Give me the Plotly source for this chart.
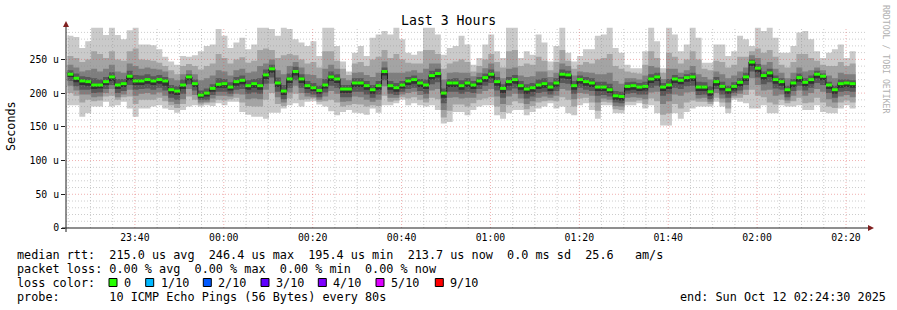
import plotly.graph_objects as go
from datetime import datetime, timedelta

# ---------------- data (microseconds) ----------------
median = [228,222,218,217,212,212,217,224,212,214,
          225,218,218,220,218,220,218,205,203,212,
          224,214,197,200,207,213,214,209,217,219,
          211,214,211,227,236,215,203,221,232,221,
          211,208,204,212,224,221,206,206,215,215,
          211,205,211,232,211,208,212,218,220,215,
          212,226,229,200,215,215,211,215,212,218,
          223,228,217,207,217,220,211,206,208,212,
          214,209,215,228,227,211,220,217,215,209,
          209,205,196,195,210,211,209,210,221,224,
          209,212,221,219,223,224,209,209,202,217,
          210,205,210,216,224,246,237,226,230,220,
          217,205,215,223,216,220,228,225,212,205,214,215,214]

ping01 = [182,182,165,170,180,180,187,180,182,187,
          177,165,177,177,180,182,177,175,171,175,
          180,182,180,182,181,185,182,187,187,172,
          168,165,165,162,171,171,177,182,185,180,
          187,188,183,180,173,167,172,175,171,170,
          168,177,171,182,182,185,190,182,185,182,
          180,182,175,155,157,172,172,167,175,180,
          182,182,167,162,170,175,175,167,172,177,
          180,185,177,180,170,167,182,185,175,162,
          182,182,170,170,182,182,185,177,182,170,
          152,152,170,162,172,177,180,180,180,187,
          180,170,190,187,185,177,177,182,170,170,
          182,180,180,182,175,175,182,172,170,170,177,182,177]
ping02 = [200,196,186,190,188,189,195,196,190,194,
          195,184,190,190,190,193,188,182,178,184,
          195,190,183,185,186,190,189,191,193,186,
          181,180,180,190,200,184,181,192,199,190,
          191,192,187,188,190,186,180,182,184,183,
          180,182,181,196,187,189,194,192,194,190,
          186,193,191,164,174,183,183,180,185,190,
          192,194,180,172,182,188,185,176,181,186,
          188,189,188,194,190,180,192,193,186,174,
          187,186,176,175,187,187,189,184,192,188,
          168,170,184,177,186,189,187,187,184,193,
          186,177,193,193,197,205,196,194,186,183,
          190,185,188,193,185,186,193,186,180,178,186,189,186]
ping03 = [211,204,198,198,194,195,200,206,194,198,
          205,196,199,200,198,201,196,187,184,191,
          206,197,186,187,192,196,196,195,199,198,
          191,192,191,205,214,194,186,201,211,200,
          195,194,190,195,203,199,187,188,195,194,
          190,187,190,210,193,193,198,200,202,197,
          192,204,206,175,193,194,192,193,193,199,
          203,206,195,184,195,199,192,184,188,193,
          195,193,196,206,204,191,200,199,196,186,
          192,190,181,180,193,194,193,191,201,202,
          184,188,198,196,201,202,192,193,187,200,
          192,186,196,199,205,222,212,204,205,196,
          198,189,196,204,196,200,206,202,191,186,195,197,194]
ping04 = [218,210,205,205,200,201,206,212,200,203,
          212,205,206,207,205,208,204,193,190,199,
          213,204,190,190,197,202,202,199,205,206,
          199,201,199,214,223,202,191,208,219,208,
          200,198,194,201,211,208,194,194,202,202,
          198,193,198,219,199,197,202,206,208,203,
          199,213,216,185,202,202,199,202,200,206,
          211,215,204,193,204,207,199,192,195,200,
          202,198,203,215,214,199,208,205,203,196,
          197,195,186,185,199,200,198,198,208,211,
          196,199,208,206,210,211,197,198,191,206,
          198,193,200,204,212,232,223,213,216,207,
          205,194,203,211,204,208,215,212,200,193,202,203,202]
ping05 = [224,216,212,211,206,207,212,218,206,209,
          219,212,212,214,212,214,211,199,197,206,
          219,209,193,195,202,208,208,204,211,213,
          205,208,205,221,230,209,197,215,226,215,
          206,203,199,207,218,215,200,200,209,209,
          205,199,205,226,205,202,207,212,214,209,
          206,220,223,193,209,209,205,209,206,212,
          217,222,211,200,211,214,205,199,202,206,
          208,203,209,222,221,205,214,211,209,203,
          203,200,190,189,204,205,203,204,215,218,
          203,206,215,213,217,218,203,203,196,211,
          204,199,204,210,218,240,231,220,224,214,
          211,199,209,217,210,214,222,219,206,199,208,209,208]
ping06 = [230,224,220,219,214,214,219,226,214,216,
          227,220,220,222,220,222,220,207,205,214,
          226,216,199,202,209,215,216,211,219,221,
          213,216,213,229,238,217,205,223,234,223,
          213,210,206,214,226,223,208,208,217,217,
          213,207,213,234,213,210,214,220,222,217,
          214,228,231,202,217,217,213,217,214,220,
          225,230,219,209,219,222,213,208,210,214,
          216,211,217,230,229,213,222,219,217,211,
          211,208,198,197,212,213,211,212,223,226,
          211,214,223,221,225,226,211,211,204,219,
          212,207,212,218,226,248,239,228,232,222,
          219,207,217,225,218,222,230,227,214,207,216,217,216]
ping07 = [234,229,225,224,222,220,224,231,221,221,
          233,227,226,228,225,227,224,212,210,220,
          228,220,204,207,213,222,221,216,224,226,
          219,221,222,235,242,223,212,229,239,228,
          218,215,211,221,232,228,212,212,222,222,
          218,212,218,238,218,215,218,224,226,221,
          220,233,236,207,221,222,219,222,218,224,
          229,235,224,213,224,227,218,213,215,220,
          222,216,222,235,233,218,226,224,222,217,
          217,214,203,202,216,217,215,217,228,230,
          215,221,227,224,228,230,217,216,210,224,
          217,211,216,222,230,250,243,232,236,226,
          222,211,221,229,222,226,233,229,217,211,220,220,219]
ping08 = [242,238,232,234,236,232,236,242,232,230,
          244,240,236,238,236,235,232,222,219,228,
          234,228,219,222,226,234,232,226,234,236,
          230,232,240,244,250,234,228,240,246,238,
          228,227,222,236,242,236,222,219,230,231,
          227,224,230,247,230,230,230,232,234,230,
          236,244,244,220,230,231,230,230,225,230,
          237,244,232,222,236,238,226,224,225,232,
          232,224,230,244,240,226,232,231,230,228,
          228,230,218,214,222,222,220,226,240,238,
          221,236,236,230,234,240,228,224,220,232,
          228,222,226,232,238,256,252,242,246,236,
          230,222,230,238,232,234,238,234,226,222,230,228,228]
ping09 = [255,252,246,250,262,258,252,262,250,248,
          262,266,250,249,248,245,240,234,228,240,
          243,240,235,240,244,258,252,244,250,253,
          245,248,264,266,264,252,256,258,256,250,
          244,246,238,262,262,248,236,227,244,246,
          240,250,254,264,252,258,250,245,244,244,
          264,264,258,236,244,247,250,246,232,240,
          250,258,246,238,262,264,240,244,242,254,
          248,234,246,264,248,236,242,246,244,250,
          252,258,240,236,232,230,229,242,262,252,
          230,260,254,244,250,262,250,236,234,248,
          246,238,242,254,254,262,266,260,264,254,
          242,238,246,258,258,252,248,242,240,240,246,240,244]
ping10 = [285,283,267,277,297,297,286,297,286,280,
          293,297,272,272,271,265,254,247,242,255,
          254,256,262,270,272,295,285,267,275,282,
          265,272,297,297,295,285,297,295,280,275,
          270,277,255,297,297,270,247,232,260,270,
          255,282,287,292,287,297,280,260,257,262,
          297,297,287,257,267,270,285,272,242,252,
          272,287,262,252,297,297,252,262,257,287,
          275,247,270,297,260,247,255,265,265,285,
          287,297,267,260,242,237,237,262,297,277,
          237,297,287,262,272,297,282,245,245,272,
          272,255,262,285,280,270,297,292,297,282,
          260,260,270,290,292,280,262,252,260,265,272,252,262]

y_tick_values = [0, 50, 100, 150, 200, 250]
y_tick_labels = ["0", "50 u", "100 u", "150 u", "200 u", "250 u"]
x_tick_labels = ["23:40", "00:00", "00:20", "00:40", "01:00", "01:20", "01:40", "02:00", "02:20"]
loss_labels = ["0", "1/10", "2/10", "3/10", "4/10", "5/10", "9/10"]
loss_colors = ["#26ff00", "#00b8ff", "#0059ff", "#5e00ff", "#7e00ff", "#dd00ff", "#ff0000"]

legend_lines = [
    "median rtt:  215.0 us avg  246.4 us max  195.4 us min  213.7 us now  0.0 ms sd  25.6   am/s",
    "packet loss: 0.00 % avg  0.00 % max  0.00 % min  0.00 % now",
    "loss color:",
    "probe:       10 ICMP Echo Pings (56 Bytes) every 80s",
]
end_text = "end: Sun Oct 12 02:24:30 2025"

# ---------------- layout geometry ----------------
W, H = 897, 310
L, R, T, B = 66, 866, 27, 228
YMAX = 298
FONT = "DejaVu Sans Mono"

x_start = datetime(2025, 10, 11, 23, 24, 30)
x_end = datetime(2025, 10, 12, 2, 24, 30)
data_start = datetime(2025, 10, 11, 23, 24, 50)
step = timedelta(seconds=80)
n = len(median)
times = [data_start + step * i for i in range(n + 1)]


def px(x):
    return (x - L) / (R - L)


def py(y):
    return (B - y) / (B - T)


def nb(s):
    return s.replace(" ", "\u00a0")


pings = [ping01, ping02, ping03, ping04, ping05, ping06, ping07, ping08, ping09, ping10]
smoke_cols = ["#cacaca", "#a4a4a4", "#7e7e7e", "#585858", "#323232"]

fig = go.Figure()
for k in range(5):
    lo = pings[k]
    hi = pings[9 - k]
    fig.add_trace(go.Scatter(x=times, y=lo + [lo[-1]], mode="lines",
                             line=dict(width=0, shape="hv"), hoverinfo="skip",
                             showlegend=False))
    fig.add_trace(go.Scatter(x=times, y=hi + [hi[-1]], mode="lines",
                             line=dict(width=0, shape="hv"), fill="tonexty",
                             fillcolor=smoke_cols[k], hoverinfo="skip",
                             showlegend=False))

# median: thin dark step line plus green loss-colour segments
fig.add_trace(go.Scatter(x=times, y=median + [median[-1]], mode="lines",
                         line=dict(width=1, shape="hv", color="#202020"),
                         hoverinfo="skip", showlegend=False))
gx, gy = [], []
for i, v in enumerate(median):
    gx += [times[i], times[i + 1], None]
    gy += [v, v, None]
fig.add_trace(go.Scatter(x=gx, y=gy, mode="lines",
                         line=dict(width=3, color=loss_colors[0]),
                         hoverinfo="skip", showlegend=False))

shapes = []
minor_col = "rgba(143,143,143,0.45)"
major_col = "rgba(222,79,79,0.45)"
# horizontal grid
for v in range(10, YMAX, 10):
    shapes.append(dict(type="line", xref="paper", yref="y", x0=0, x1=1, y0=v, y1=v,
                       line=dict(color=major_col if v % 50 == 0 else minor_col,
                                 width=1, dash="1px,2px"), layer="above"))
# vertical grid
t = datetime(2025, 10, 11, 23, 25)
while t < x_end:
    major = (t.minute % 20 == 0)
    shapes.append(dict(type="line", xref="x", yref="paper", x0=t, x1=t, y0=0, y1=1,
                       line=dict(color=major_col if major else minor_col,
                                 width=1, dash="1px,2px"), layer="above"))
    t += timedelta(minutes=5)

axis_col = "#1f1f1f"
arrow_col = "rgb(128,31,31)"
shapes.append(dict(type="line", xref="paper", yref="paper", x0=px(62), x1=px(869),
                   y0=0, y1=0, line=dict(color=axis_col, width=1), layer="above"))
shapes.append(dict(type="line", xref="paper", yref="paper", x0=0, x1=0,
                   y0=py(232), y1=py(23), line=dict(color=axis_col, width=1), layer="above"))
# arrows
shapes.append(dict(type="path", xref="paper", yref="paper",
                   path=f"M {px(63)} {py(27)} L {px(69)} {py(27)} L {px(66)} {py(21)} Z",
                   fillcolor=arrow_col, line=dict(width=0), layer="above"))
shapes.append(dict(type="path", xref="paper", yref="paper",
                   path=f"M {px(868)} {py(225)} L {px(868)} {py(231)} L {px(874)} {py(228)} Z",
                   fillcolor=arrow_col, line=dict(width=0), layer="above"))

annotations = []
annotations.append(dict(text="Last 3 Hours", x=px(448), y=py(20), xref="paper", yref="paper",
                        showarrow=False, xanchor="center", yanchor="middle",
                        font=dict(family=FONT, size=13.2, color="black")))
annotations.append(dict(text="Seconds", x=px(11), y=py(126), xref="paper", yref="paper",
                        showarrow=False, xanchor="center", yanchor="middle", textangle=-90,
                        font=dict(family=FONT, size=11.8, color="black")))
annotations.append(dict(text="RRDTOOL / TOBI OETIKER", x=px(886), y=py(60), xref="paper",
                        yref="paper", showarrow=False, xanchor="center", yanchor="middle",
                        textangle=90, font=dict(family=FONT, size=8.2, color="#b0b0b0")))
line_y = [255, 268.5, 282.5, 296.5]
for s, yy in zip(legend_lines, line_y):
    annotations.append(dict(text=nb(s), x=px(15), y=py(yy), xref="paper", yref="paper",
                            showarrow=False, xanchor="left", yanchor="middle",
                            font=dict(family=FONT, size=11.8, color="black")))
annotations.append(dict(text=nb(end_text), x=px(678), y=py(296.5), xref="paper", yref="paper",
                        showarrow=False, xanchor="left", yanchor="middle",
                        font=dict(family=FONT, size=11.8, color="black")))
box_x = [109, 145.7, 203.3, 261, 318.3, 376, 435.3]
for bx, lab, col in zip(box_x, loss_labels, loss_colors):
    shapes.append(dict(type="rect", xref="paper", yref="paper", x0=px(bx), x1=px(bx + 8),
                       y0=py(286.5), y1=py(278.5), fillcolor=col,
                       line=dict(color="black", width=1), layer="above"))
    annotations.append(dict(text=nb(lab), x=px(bx + 13), y=py(282.5), xref="paper",
                            yref="paper", showarrow=False, xanchor="left", yanchor="middle",
                            font=dict(family=FONT, size=11.8, color="black")))

x_tick_vals = []
for lab in x_tick_labels:
    hh, mm = int(lab[:2]), int(lab[3:])
    day = 11 if hh >= 12 else 12
    x_tick_vals.append(datetime(2025, 10, day, hh, mm))

fig.update_layout(
    width=W, height=H,
    margin=dict(l=L, r=W - R, t=T, b=H - B, pad=0),
    paper_bgcolor="white", plot_bgcolor="white",
    showlegend=False,
    shapes=shapes, annotations=annotations,
    xaxis=dict(type="date", range=[x_start, x_end], showgrid=False, zeroline=False,
               showline=False, tickmode="array", tickvals=x_tick_vals,
               ticktext=x_tick_labels, ticks="", ticklabelstandoff=2,
               tickfont=dict(family=FONT, size=9.8, color="black"), fixedrange=True),
    yaxis=dict(range=[0, YMAX], showgrid=False, zeroline=False, showline=False,
               tickmode="array", tickvals=y_tick_values, ticktext=[nb(s) for s in y_tick_labels],
               ticks="outside", ticklen=4, tickcolor=axis_col, tickwidth=1,
               tickfont=dict(family=FONT, size=9.8, color="black"), fixedrange=True),
)

fig.write_html("out.html")
